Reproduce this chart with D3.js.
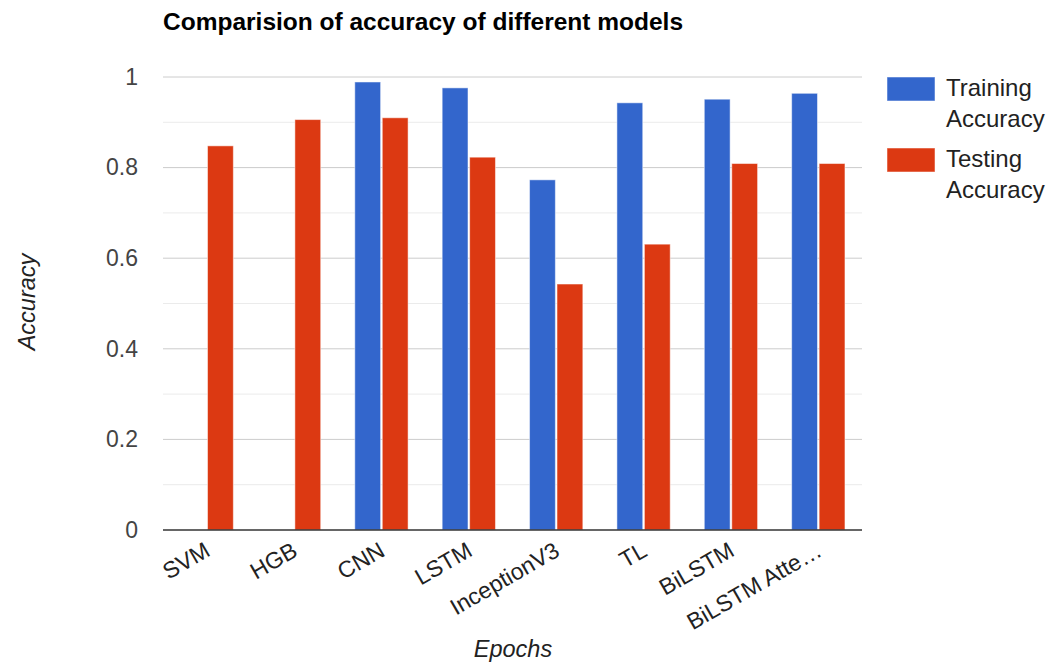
<!DOCTYPE html>
<html>
<head>
<meta charset="utf-8">
<script src="https://cdn.jsdelivr.net/npm/d3@7"></script>
<style>
  html, body { margin: 0; padding: 0; background: #fff; }
  svg { display: block; font-family: "Liberation Sans", Arial, sans-serif; }
</style>
</head>
<body>
<svg id="chart" width="1057" height="670"></svg>
<script>
// Model names and accuracies
const models = ["SVM", "HGB", "CNN", "LSTM", "InceptionV3", "TL", "BiLSTM", "BiLSTM Atte\u2026"];
const trainingAccuracy = [null, null, 0.989, 0.976, 0.773, 0.943, 0.951, 0.964];
const testingAccuracy = [0.848, 0.906, 0.910, 0.823, 0.543, 0.631, 0.809, 0.809];
const seriesNames = ["Training Accuracy", "Testing Accuracy"];
const seriesColors = ["#3366cc", "#dc3912"];
const yTicks = [0, 0.2, 0.4, 0.6, 0.8, 1];
const yMinorTicks = [0.1, 0.3, 0.5, 0.7, 0.9];

const svg = d3.select("#chart");
const plot = { left: 163, right: 862, top: 77, bottom: 530 };

const x = d3.scaleBand().domain(models).range([plot.left, plot.right]).paddingInner(0).paddingOuter(0);
const groupWidth = x.bandwidth() * 0.61;
const xInner = d3.scaleBand().domain([0, 1]).range([0, groupWidth]).paddingInner(0.06);
const y = d3.scaleLinear().domain([0, 1]).range([plot.bottom, plot.top]);

// Gridlines
svg.append("g").selectAll("line.minor").data(yMinorTicks).join("line")
  .attr("x1", plot.left).attr("x2", plot.right)
  .attr("y1", d => y(d)).attr("y2", d => y(d))
  .attr("stroke", "#ebebeb").attr("stroke-width", 1);
svg.append("g").selectAll("line.major").data(yTicks.filter(d => d > 0)).join("line")
  .attr("x1", plot.left).attr("x2", plot.right)
  .attr("y1", d => y(d)).attr("y2", d => y(d))
  .attr("stroke", "#cccccc").attr("stroke-width", 1);

// Y axis labels
const yAxis = d3.axisLeft(y).tickValues(yTicks).tickSize(0).tickPadding(25)
  .tickFormat(d => d3.format("")(d));
const yg = svg.append("g").attr("transform", `translate(${plot.left},0)`).call(yAxis);
yg.select(".domain").remove();
yg.selectAll("text").attr("font-size", 23).attr("fill", "#444")
  .attr("font-family", "Liberation Sans, Arial, sans-serif");

// Bars
const rows = models.map((m, i) => ({ model: m, values: [trainingAccuracy[i], testingAccuracy[i]] }));
const groups = svg.append("g").selectAll("g").data(rows).join("g")
  .attr("transform", d => `translate(${x(d.model) + (x.bandwidth() - groupWidth) / 2},0)`);
groups.selectAll("rect").data(d => d.values.map((v, s) => ({ v, s })).filter(e => e.v != null)).join("rect")
  .attr("x", d => xInner(d.s))
  .attr("width", xInner.bandwidth())
  .attr("y", d => y(d.v))
  .attr("height", d => y(0) - y(d.v))
  .attr("fill", d => seriesColors[d.s])
  .attr("stroke", "#ffffff").attr("stroke-opacity", 0.5).attr("stroke-width", 1);

// Baseline
svg.append("line").attr("x1", plot.left).attr("x2", plot.right)
  .attr("y1", y(0)).attr("y2", y(0)).attr("stroke", "#333").attr("stroke-width", 1.5);

// X axis labels (rotated)
const xAxis = d3.axisBottom(x).tickSize(0).tickPadding(0);
const xg = svg.append("g").attr("transform", `translate(0,${plot.bottom})`).call(xAxis);
xg.select(".domain").remove();
xg.selectAll("text")
  .attr("font-size", 23).attr("fill", "#222")
  .attr("font-family", "Liberation Sans, Arial, sans-serif")
  .attr("text-anchor", "end")
  .attr("dy", 0)
  .attr("transform", "translate(5,25) rotate(-30)");

// Title
svg.append("text").attr("x", plot.left).attr("y", 30)
  .attr("font-size", 24.5).attr("font-weight", "bold").attr("fill", "#000")
  .text("Comparision of accuracy of different models");

// Axis titles
svg.append("text").attr("transform", "translate(35,302) rotate(-90)")
  .attr("text-anchor", "middle").attr("font-size", 23.5).attr("font-style", "italic").attr("fill", "#222")
  .text("Accuracy");
svg.append("text").attr("x", 513).attr("y", 657)
  .attr("text-anchor", "middle").attr("font-size", 23.5).attr("font-style", "italic").attr("fill", "#222")
  .text("Epochs");

// Legend
const legend = svg.append("g").selectAll("g").data(seriesNames).join("g")
  .attr("transform", (d, i) => `translate(887,${77 + i * 71})`);
legend.append("rect").attr("width", 48).attr("height", 24)
  .attr("fill", (d, i) => seriesColors[i])
  .attr("stroke", "#fff").attr("stroke-opacity", 0.5);
legend.append("text").attr("font-size", 24).attr("fill", "#222")
  .selectAll("tspan").data(d => d.split(" ")).join("tspan")
  .attr("x", 59).attr("y", (d, i) => 19 + i * 31).text(d => d);
</script>
</body>
</html>
